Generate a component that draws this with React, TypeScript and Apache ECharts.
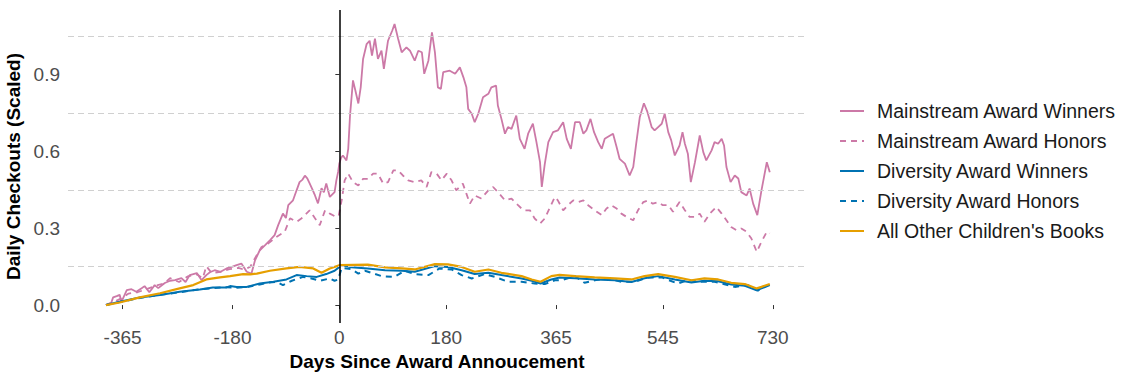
import React, { useEffect, useRef } from "react";
import * as echarts from "echarts";

const xTicks = [-365, -180, 0, 180, 365, 545, 730];
const yTicks = [0, 0.3, 0.6, 0.9];
const gridLines = [0.15, 0.45, 0.75, 1.05];

const seriesNames = [
  "Mainstream Award Winners",
  "Mainstream Award Honors",
  "Diversity Award Winners",
  "Diversity Award Honors",
  "All Other Children's Books",
];

const mwDays = [-393,-384,-381,-375,-370,-367,-358,-350,-342,-333,-328,-320,-311,-305,-294,-285,-277,-266,-259,-252,-240,-232,-224,-218,-210,-200,-190,-180,-173,-165,-160,-156,-148,-142,-134,-125,-117,-109,-103,-95,-90,-86,-78,-72,-67,-62,-58,-54,-50,-45,-41,-36,-30,-26,-22,-16,-8,-5,-2,0,3,6,12,15,18,23,27,32,36,40,46,51,55,60,65,71,75,82,89,93,99,105,113,119,127,133,139,143,150,156,161,166,171,175,186,195,203,209,214,217,223,228,234,242,251,256,264,267,273,279,284,290,298,304,312,318,326,332,338,341,346,352,360,368,377,383,390,397,405,411,416,423,429,436,442,447,456,461,467,472,481,489,495,500,506,513,519,526,531,537,543,548,554,559,565,573,578,582,587,592,599,607,613,618,627,632,638,644,648,652,659,666,672,677,686,691,697,704,711,720,725];
const mwVals = [0,0.01,0.03,0.035,0.04,0.012,0.058,0.062,0.052,0.066,0.074,0.05,0.078,0.066,0.086,0.095,0.097,0.105,0.09,0.117,0.125,0.097,0.117,0.128,0.136,0.13,0.143,0.15,0.156,0.162,0.145,0.13,0.123,0.175,0.214,0.234,0.253,0.273,0.312,0.357,0.34,0.39,0.409,0.448,0.48,0.49,0.505,0.495,0.475,0.45,0.428,0.397,0.456,0.44,0.475,0.422,0.441,0.487,0.52,0.553,0.575,0.584,0.565,0.61,0.74,0.877,0.838,0.787,0.85,0.961,1.019,1.032,0.974,1.04,0.961,0.993,0.922,1.032,1.071,1.097,1.04,0.987,1.006,0.993,0.954,0.993,0.987,0.903,0.954,1.065,0.987,0.85,0.844,0.909,0.915,0.903,0.928,0.889,0.85,0.766,0.747,0.714,0.747,0.811,0.825,0.85,0.857,0.779,0.727,0.669,0.695,0.688,0.74,0.649,0.61,0.669,0.708,0.636,0.558,0.461,0.55,0.636,0.675,0.682,0.714,0.649,0.61,0.714,0.714,0.669,0.682,0.727,0.675,0.636,0.61,0.649,0.662,0.669,0.617,0.571,0.552,0.506,0.539,0.63,0.733,0.788,0.753,0.695,0.682,0.695,0.708,0.747,0.675,0.643,0.584,0.623,0.675,0.63,0.591,0.48,0.558,0.662,0.597,0.565,0.604,0.636,0.63,0.649,0.623,0.539,0.48,0.506,0.494,0.441,0.428,0.455,0.396,0.351,0.448,0.558,0.519];

const mhDays = [-393,-380,-368,-355,-340,-325,-310,-295,-285,-270,-255,-240,-230,-224,-215,-200,-185,-170,-160,-150,-142,-131,-120,-106,-92,-83,-72,-64,-50,-41,-33,-24,-16,-5,-1,4,9,15,23,32,40,48,57,65,74,82,91,99,107,116,127,138,147,155,164,172,181,189,197,208,214,220,228,239,251,259,267,279,290,301,310,321,329,338,346,355,363,368,377,385,394,402,411,419,430,442,450,458,467,475,484,495,503,512,520,528,537,545,554,562,573,582,590,599,607,615,624,635,644,652,660,669,677,686,694,703,711,720,725];
const mhVals = [0,0.012,0.025,0.045,0.05,0.062,0.075,0.085,0.105,0.09,0.112,0.12,0.105,0.152,0.125,0.13,0.14,0.145,0.138,0.15,0.183,0.227,0.24,0.266,0.286,0.339,0.325,0.338,0.37,0.339,0.312,0.37,0.357,0.344,0.35,0.41,0.487,0.513,0.48,0.467,0.493,0.493,0.513,0.513,0.474,0.48,0.526,0.526,0.506,0.487,0.48,0.487,0.461,0.519,0.513,0.487,0.513,0.487,0.448,0.474,0.435,0.396,0.428,0.416,0.448,0.461,0.441,0.409,0.416,0.39,0.37,0.37,0.338,0.318,0.338,0.383,0.422,0.409,0.37,0.39,0.409,0.402,0.409,0.39,0.37,0.351,0.377,0.39,0.377,0.357,0.344,0.331,0.37,0.402,0.409,0.396,0.402,0.39,0.39,0.364,0.402,0.37,0.344,0.344,0.357,0.325,0.357,0.383,0.357,0.331,0.305,0.292,0.299,0.286,0.26,0.208,0.247,0.286,0.28];

const dwDays = [-393,-370,-336,-302,-269,-235,-213,-190,-184,-173,-156,-134,-111,-89,-72,-55,-38,-22,-8,4,20,48,77,105,127,161,183,206,228,251,273,307,324,339,357,371,397,430,464,492,514,537,565,593,615,638,660,683,703,711,725];
const dwVals = [0,0.013,0.03,0.039,0.052,0.061,0.069,0.069,0.074,0.071,0.071,0.084,0.091,0.1,0.117,0.113,0.11,0.121,0.134,0.156,0.148,0.143,0.136,0.134,0.13,0.152,0.149,0.136,0.121,0.126,0.117,0.104,0.095,0.084,0.1,0.108,0.105,0.1,0.097,0.09,0.105,0.113,0.1,0.088,0.095,0.093,0.08,0.075,0.058,0.065,0.078];

const dhDays = [-393,-370,-336,-302,-269,-235,-213,-190,-173,-156,-134,-120,-106,-95,-80,-61,-47,-33,-16,-8,-2,4,20,32,43,71,93,110,127,150,169,189,206,223,245,262,284,307,329,346,363,374,397,413,430,453,475,498,520,543,570,587,610,632,666,688,705,722];
const dhVals = [0,0.012,0.028,0.04,0.05,0.062,0.066,0.07,0.068,0.07,0.08,0.088,0.091,0.078,0.095,0.11,0.104,0.095,0.104,0.095,0.1,0.145,0.14,0.123,0.134,0.113,0.11,0.134,0.121,0.117,0.143,0.139,0.117,0.104,0.121,0.11,0.091,0.091,0.084,0.082,0.097,0.097,0.113,0.087,0.097,0.104,0.091,0.091,0.108,0.108,0.084,0.097,0.091,0.091,0.071,0.078,0.056,0.078];

const aoDays = [-393,-370,-336,-302,-269,-246,-224,-201,-184,-173,-162,-150,-139,-117,-89,-67,-44,-30,-16,1,48,77,105,127,161,183,206,228,251,273,307,324,339,357,371,397,430,464,492,514,537,565,593,615,638,660,683,703,711,725];
const aoVals = [0,0.01,0.03,0.046,0.065,0.078,0.1,0.108,0.113,0.117,0.121,0.12,0.123,0.134,0.143,0.149,0.143,0.126,0.143,0.156,0.158,0.147,0.143,0.139,0.16,0.159,0.149,0.13,0.139,0.126,0.113,0.1,0.091,0.113,0.118,0.113,0.108,0.104,0.1,0.113,0.121,0.11,0.097,0.104,0.1,0.087,0.082,0.065,0.071,0.082];

const zip = (d: number[], v: number[]) => d.map((x, i) => [x, v[i]]);

const FONT = "'Liberation Sans', Arial, sans-serif";

export default function App() {
  const ref = useRef<HTMLDivElement>(null);
  useEffect(() => {
    if (!ref.current) return;
    document.body.style.margin = "0";
    const chart = echarts.init(ref.current, null, { renderer: "svg" });
    const pink = "#CC79A7";
    const blue = "#0072B2";
    const orange = "#E69F00";
    const mk = (name: string, d: number[], v: number[], color: string, dashed: boolean, width: number, z: number) => ({
      name,
      type: "line",
      data: zip(d, v),
      showSymbol: false,
      symbol: "none",
      z,
      color,
      lineStyle: { color, width, type: dashed ? [6, 5] : "solid" },
    });
    chart.setOption({
      animation: false,
      backgroundColor: "#ffffff",
      textStyle: { fontFamily: FONT },
      grid: { left: 68, right: 329, top: 10, bottom: 56, containLabel: false, outerBoundsMode: "none" },
      legend: {
        orient: "vertical",
        left: 834,
        top: 96,
        padding: 5,
        itemWidth: 24,
        itemHeight: 14,
        itemGap: 10,
        data: seriesNames,
        itemStyle: { opacity: 0 },
        textStyle: { fontSize: 19.5, lineHeight: 20, color: "#1a1a1a", fontFamily: FONT, padding: [0, 0, 0, 8] },
      },
      xAxis: {
        type: "value",
        min: -457,
        max: 786,
        name: "Days Since Award Annoucement",
        nameLocation: "middle",
        nameGap: 19,
        nameTextStyle: { fontSize: 19, fontWeight: "bold", color: "#000", fontFamily: FONT },
        axisLine: { show: false },
        axisTick: { show: true, customValues: xTicks, length: 4, lineStyle: { color: "#333" } },
        axisLabel: { customValues: xTicks, fontSize: 19, color: "#4d4d4d", margin: 5, fontFamily: FONT },
        splitLine: { show: false },
      },
      yAxis: {
        type: "value",
        min: -0.07,
        max: 1.152,
        name: "Daily Checkouts (Scaled)",
        nameLocation: "middle",
        nameGap: 38,
        nameTextStyle: { fontSize: 19, fontWeight: "bold", color: "#000", fontFamily: FONT },
        axisLine: { show: false },
        axisTick: { show: true, customValues: yTicks, length: 4, lineStyle: { color: "#333" } },
        axisLabel: {
          customValues: yTicks,
          fontSize: 19,
          color: "#4d4d4d",
          margin: 8,
          fontFamily: FONT,
          formatter: (v: number) => v.toFixed(1),
        },
        splitLine: { show: false },
      },
      series: [
        {
          name: "grid",
          type: "line",
          data: [],
          z: 0,
          silent: true,
          markLine: {
            silent: true,
            symbol: "none",
            label: { show: false },
            lineStyle: { color: "#d0d0d0", width: 1, type: [6, 4] },
            data: gridLines.map((y) => ({ yAxis: y })),
          },
        },
        mk(seriesNames[0], mwDays, mwVals, pink, false, 1.8, 2),
        mk(seriesNames[1], mhDays, mhVals, pink, true, 1.8, 2),
        mk(seriesNames[2], dwDays, dwVals, blue, false, 2, 3),
        mk(seriesNames[3], dhDays, dhVals, blue, true, 2, 3),
        mk(seriesNames[4], aoDays, aoVals, orange, false, 2.2, 4),
        {
          name: "vline",
          type: "line",
          data: [],
          z: 5,
          silent: true,
          markLine: {
            silent: true,
            symbol: "none",
            label: { show: false },
            lineStyle: { color: "#000", width: 1.5, type: "solid" },
            data: [{ xAxis: 0 }],
          },
        },
      ],
    });
    return () => chart.dispose();
  }, []);
  return <div ref={ref} style={{ position: "absolute", left: 0, top: 0, width: 1135, height: 379 }} />;
}
